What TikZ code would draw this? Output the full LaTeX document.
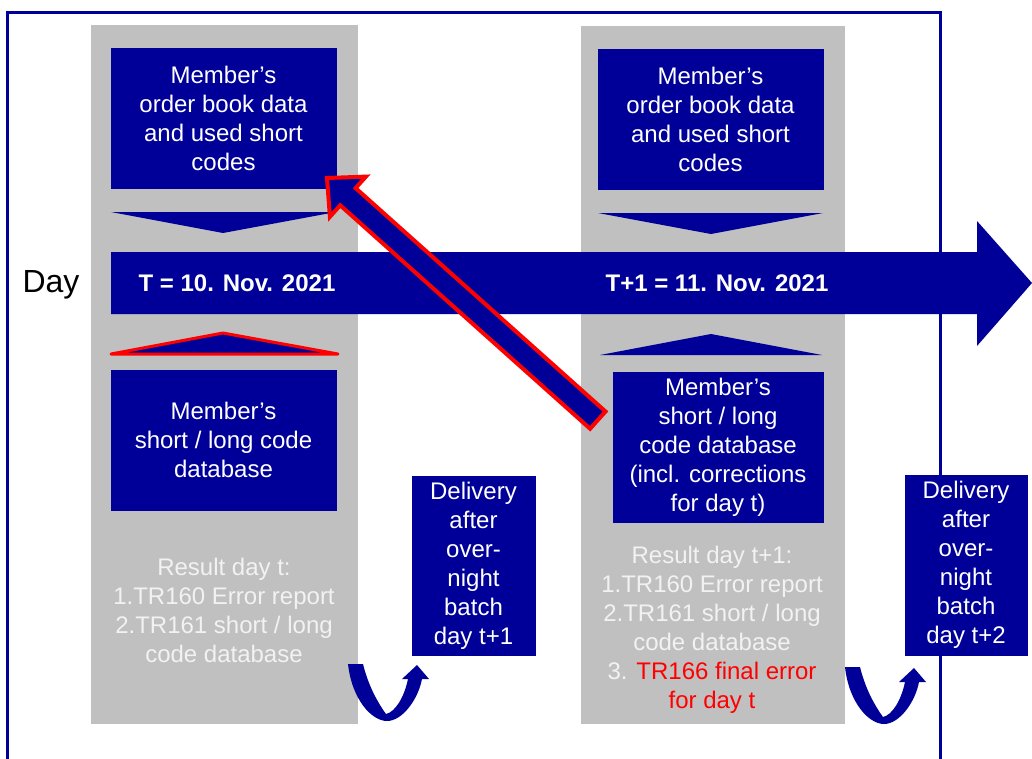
\documentclass[tikz,border=0pt]{standalone}
\usepackage{fontspec}
\setmainfont{Liberation Sans}
\definecolor{navy}{RGB}{0,0,153}
\definecolor{colgray}{RGB}{192,192,192}
\definecolor{myred}{RGB}{255,0,0}
\definecolor{paletext}{RGB}{242,242,242}
\tikzset{
  bluebox/.style={fill=navy, draw=navy, line width=0.4pt, text=white, align=center, inner sep=0pt,
    font=\fontsize{18}{21.75}\selectfont},
  datelabel/.style={text=white, inner sep=0pt, font=\fontsize{18}{21.75}\selectfont\bfseries},
  restext/.style={text=paletext, align=center, inner sep=0pt, font=\fontsize{18}{21.75}\selectfont},
  uturn/.style={fill=navy},
  bigarrow/.style={draw=myred, line width=3pt, fill=navy, line join=miter}
}
\begin{document}
\begin{tikzpicture}[x=0.75pt,y=-0.75pt]
\useasboundingbox (0,0) rectangle (1032,758);
% outer frame
\draw[navy, line width=2.25pt] (7,760) -- (7,12) -- (940,12) -- (940,760);
% gray columns
\fill[colgray] (91,25) rectangle (358,724);
\fill[colgray] (581,26) rectangle (845,724);
% top boxes
\node[bluebox, minimum width=168.75pt, minimum height=105pt] (topL) at (223.5,118)
  {Member's\\order book data\\and used short\\codes};
\node[bluebox, minimum width=168.75pt, minimum height=105pt] (topR) at (710.5,119)
  {Member's\\order book data\\and used short\\codes};
% down chevrons
\fill[navy] (111,212) -- (336,212) -- (223,233) -- cycle;
\fill[navy] (598,213) -- (823,213) -- (711,234) -- cycle;
% day arrow
\fill[navy] (111,252) -- (977,252) -- (977,221) -- (1032,283) -- (977,346) -- (977,314) -- (111,314) -- cycle;
\node[inner sep=0pt, font=\fontsize{24}{28}\selectfont] (day) at (51,285) {Day};
\node[datelabel] (dT) at (237,283) {T = 10. Nov. 2021};
\node[datelabel] (dT1) at (717,283) {T+1 = 11. Nov. 2021};
% up triangles
\draw[myred, line width=2.25pt, fill=navy, line join=round] (111,354) -- (223,333) -- (338,354) -- cycle;
\fill[navy] (600,355) -- (711,334) -- (822,355) -- cycle;
% bottom boxes
\node[bluebox, minimum width=168.75pt, minimum height=105pt] (botL) at (223.5,440)
  {Member's\\short / long code\\database};
\node[bluebox, minimum width=157.5pt, minimum height=112.5pt] (botR) at (718,447)
  {Member's\\short / long\\code database\\(incl. corrections\\for day t)};
% results
\node[restext] (resL) at (224,610)
  {Result day t:\\1.TR160 Error report\\2.TR161 short / long\\code database};
\node[restext] (resR) at (712,630)
  {Result day t+1:\\1.TR160 Error report\\2.TR161 short / long\\code database\\3. \textcolor{myred}{TR166 final error}\\\textcolor{myred}{for day t}};
% delivery boxes
\node[bluebox, minimum width=92.25pt, minimum height=134.25pt] (delL) at (473.5,565.5)
  {Delivery\\after\\over-\\night\\batch\\day t+1};
\node[bluebox, minimum width=91.5pt, minimum height=135pt] (delR) at (966,565)
  {Delivery\\after\\over-\\night\\batch\\day t+2};
% u-turn arrows
\foreach \dx/\dy [count=\i] in {0/0, 497/3} {
  \begin{scope}[shift={(\dx,\dy)}]
  \fill[uturn] (348,664) .. controls (352,700) and (372,721) .. (387,721)
    .. controls (402,721) and (418,700) .. (422,679)
    -- (429,679) -- (417,665) -- (402,679) -- (408,679)
    .. controls (404,698) and (395,712) .. (386,714)
    .. controls (376,700) and (368,684) .. (363,664) -- cycle;
  \end{scope}
}
% red correction arrow from botR to topL
\coordinate (rtail1) at (605.5,411.5);
\coordinate (rtail2) at (590.1,428.7);
\coordinate (rtip) at (327,178);
\draw[bigarrow] (rtip) -- (365.9,176.6) -- (355.6,188.1) -- (rtail1) -- (rtail2)
  -- (340.2,205.3) -- (329.9,216.8) -- cycle;
\end{tikzpicture}
\end{document}
